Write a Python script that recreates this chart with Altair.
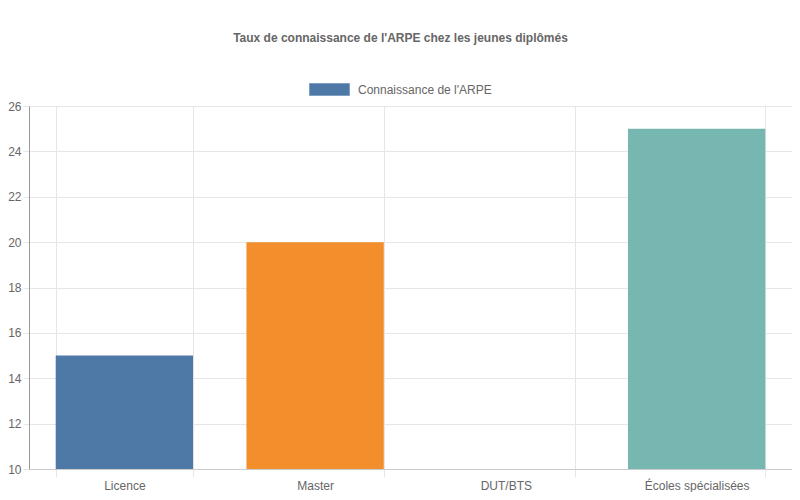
import pandas as pd
import altair as alt

# Data
categories = ["Licence", "Master", "DUT/BTS", "Écoles spécialisées"]
values = [15, 20, 10, 25]
colors = ["#4e79a7", "#f28e2b", "#e15759", "#76b7b2"]
series_name = "Connaissance de l'ARPE"
y_ticks = [10, 12, 14, 16, 18, 20, 22, 24, 26]

FONT = "Liberation Sans"
GREY = "#666666"
GRID = "#e6e6e6"

d = pd.DataFrame({"categorie": categories, "valeur": values})
d["serie"] = series_name

x = alt.X(
    "categorie:N",
    sort=categories,
    title=None,
    scale=alt.Scale(paddingInner=0.28, paddingOuter=0.14),
    axis=alt.Axis(
        labelAngle=0,
        labelColor=GREY,
        labelFont=FONT,
        labelFontSize=12,
        labelPadding=3,
        tickBand="extent",
        tickSize=8,
        tickColor=GRID,
        grid=True,
        gridColor=GRID,
        domainColor="#cccccc",
    ),
)
y = alt.Y(
    "valeur:Q",
    title=None,
    scale=alt.Scale(domain=[10, 26], zero=False, nice=False),
    axis=alt.Axis(
        values=y_ticks,
        labelColor=GREY,
        labelFont=FONT,
        labelFontSize=12,
        labelPadding=2,
        tickSize=6,
        tickColor=GRID,
        gridColor=GRID,
        domainColor="#999999",
    ),
)

# Bars, one colour per category
bars = (
    alt.Chart(d)
    .mark_bar(clip=True)
    .encode(
        x=x,
        y=y,
        color=alt.Color(
            "categorie:N",
            sort=categories,
            scale=alt.Scale(domain=categories, range=colors),
            legend=None,
        ),
    )
)

# Invisible layer that carries the single dataset legend
legend_layer = (
    alt.Chart(d)
    .mark_bar(opacity=0, clip=True)
    .encode(
        x=alt.X("categorie:N", sort=categories),
        y=alt.Y("valeur:Q"),
        color=alt.Color(
            "serie:N",
            scale=alt.Scale(range=[colors[0]]),
            legend=alt.Legend(
                title=None,
                orient="none",
                legendX=280,
                legendY=-37,
                symbolType="M-1,-0.3H1V0.3H-1Z",
                symbolSize=1600,
                symbolOpacity=1,
                symbolStrokeColor="#7fa0c2",
                symbolStrokeWidth=1,
                labelColor=GREY,
                labelFont=FONT,
                labelFontSize=12,
                labelOffset=8,
            ),
        ),
    )
)

chart = (
    alt.layer(bars, legend_layer)
    .resolve_scale(color="independent")
    .properties(
        width=763,
        height=363,
        autosize=alt.AutoSizeParams(type="none"),
        padding={"left": 21, "top": 98, "right": 0, "bottom": 23},
        title=alt.TitleParams(
            "Taux de connaissance de l'ARPE chez les jeunes diplômés",
            font=FONT,
            fontSize=12,
            fontWeight="bold",
            color=GREY,
            anchor="middle",
            offset=24,
            dx=-10,
        ),
    )
    .configure_view(stroke=GRID)
)

chart.save("out.html", embed_options={"renderer": "svg", "actions": False})
